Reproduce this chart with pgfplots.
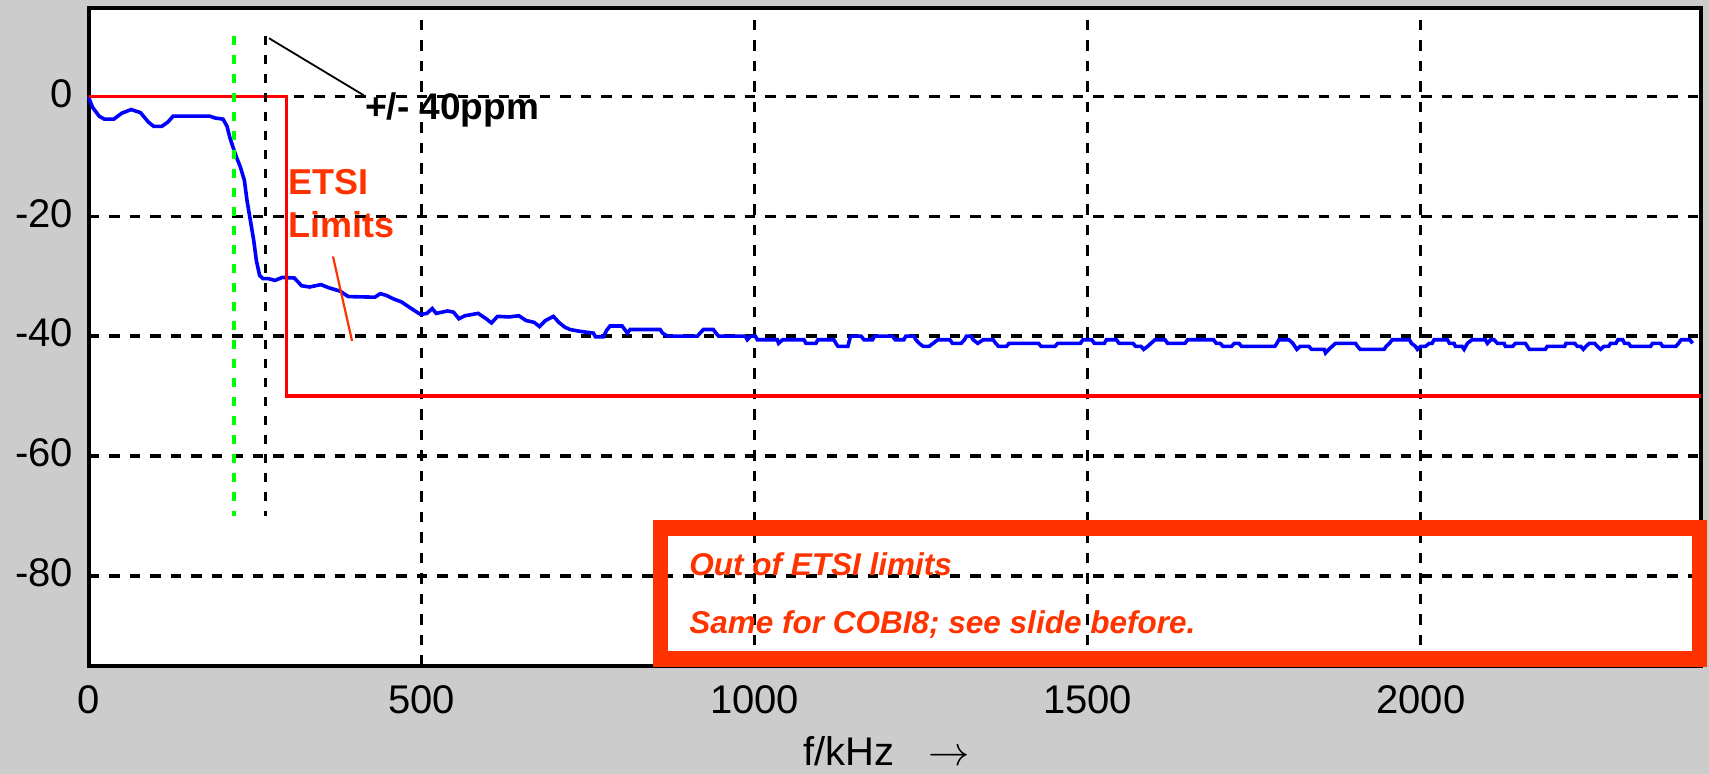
\documentclass[border=0pt]{standalone}
\usepackage{pgfplots}
\pgfplotsset{compat=1.18}
\usepackage{fontspec}
\setmainfont{Liberation Sans}
\definecolor{bggray}{RGB}{204,204,204}
\definecolor{etsi}{RGB}{255,51,0}
\begin{document}
\begin{tikzpicture}
% window background (one unit = 0.5bp)
\begin{scope}[x=0.5bp,y=0.5bp]
\fill[bggray] (0,0) rectangle (1709,774);
\end{scope}
\begin{axis}[
  at={(44.25bp,54.1bp)}, anchor=south west,
  scale only axis, width=806bp, height=328.75bp,
  xmin=0, xmax=2420, ymin=-95, ymax=14.7,
  xtick={0,500,1000,1500,2000}, xticklabels={0,500,1000,1500,2000},
  ytick={-80,-60,-40,-20,0}, yticklabels={-80,-60,-40,-20,0},
  major tick length=0pt,
  grid=major,
  major grid style={black, line width=1.7bp, dash pattern=on 5.25bp off 5bp},
  axis line style={black, line width=2bp},
  axis background/.style={fill=white},
  tick label style={font=\fontsize{20bp}{24bp}\selectfont},
  xticklabel style={anchor=north, inner sep=0pt, yshift=-9.5bp},
  yticklabel style={anchor=east, inner sep=0pt, xshift=-7.5bp, yshift=1.5bp},
  clip=false,
]
% measured response
\addplot[blue, line width=1.8bp] coordinates {
(0,-0.1) (6,-1.8) (16,-3.3) (24,-3.8) (38,-3.8) (50,-2.8) (64,-2.2) (78,-2.7)
(90,-4.3) (98,-5.0) (110,-5.0) (119,-4.3) (127,-3.3) (182,-3.3) (190,-3.6)
(202,-3.8) (208,-5.0) (212,-6.8) (217,-8.5) (222,-10.1) (228,-11.8) (234,-14.0)
(238,-17.4) (243,-20.7) (248,-24.0) (252,-27.4) (257,-29.9) (262,-30.4)
(270,-30.4) (280,-30.7) (291,-30.2) (309,-30.3) (320,-31.6) (332,-31.8)
(349,-31.4) (360,-31.9) (378,-32.5) (390,-33.4) (430,-33.5) (438,-32.9)
(447,-33.2) (458,-33.8) (470,-34.3) (482,-35.2) (493,-36.0) (499,-36.4)
(508,-36.2) (516,-35.4) (522,-36.2) (539,-35.8) (548,-36.0) (556,-37.1)
(565,-36.6) (585,-36.2) (597,-37.1) (605,-37.8) (614,-36.7) (631,-36.8)
(646,-36.6) (657,-37.4) (669,-37.7) (677,-38.4) (686,-37.4) (698,-36.7)
(706,-37.7) (715,-38.5) (723,-38.9) (738,-39.2) (758,-39.5) (761,-40.1)
(773,-40.1) (778,-39.0) (783,-38.3) (801,-38.3) (805,-38.9) (809,-39.5)
(813,-38.9) (858,-38.9) (862,-39.5) (869,-40.0) (914,-40.0) (918,-39.5)
(923,-38.9) (938,-38.9) (942,-39.5) (946,-40.0) (986,-40.0) (989,-40.6)
(994,-40.0) (1001,-40.0) (1004,-40.6) (1034,-40.6) (1036,-41.2) (1042,-40.6)
(1074,-40.6) (1077,-41.2) (1092,-41.2) (1095,-40.6) (1119,-40.6) (1122,-41.2)
(1125,-41.7) (1140,-41.7) (1144,-40.0) (1160,-40.0) (1164,-40.6) (1177,-40.6)
(1180,-40.0) (1207,-40.0) (1211,-40.6) (1224,-40.6) (1227,-40.0) (1239,-40.0)
(1242,-40.6) (1247,-41.2) (1253,-41.7) (1262,-41.7) (1268,-41.2) (1275,-40.6)
(1293,-40.6) (1297,-41.2) (1310,-41.2) (1315,-40.6) (1318,-40.0) (1325,-40.0)
(1328,-40.6) (1335,-41.2) (1343,-40.6) (1358,-40.6) (1362,-41.2) (1366,-41.7)
(1378,-41.7) (1382,-41.2) (1426,-41.2) (1430,-41.7) (1451,-41.7) (1455,-41.2)
(1489,-41.2) (1493,-40.6) (1506,-40.6) (1510,-41.2) (1525,-41.2) (1528,-40.6)
(1543,-40.6) (1547,-41.2) (1568,-41.2) (1572,-41.7) (1580,-41.7) (1584,-42.2)
(1590,-41.7) (1595,-41.2) (1601,-40.6) (1616,-40.6) (1620,-41.2) (1646,-41.2)
(1650,-40.6) (1689,-40.6) (1693,-41.2) (1699,-41.2) (1703,-41.7) (1716,-41.7)
(1720,-41.2) (1727,-41.2) (1731,-41.7) (1781,-41.7) (1784,-41.2) (1787,-40.6)
(1802,-40.6) (1808,-41.2) (1814,-42.2) (1819,-41.7) (1832,-41.7) (1836,-42.2)
(1855,-42.2) (1857,-42.8) (1862,-42.2) (1867,-41.7) (1872,-41.2) (1902,-41.2)
(1905,-41.7) (1909,-42.2) (1945,-42.2) (1948,-41.7) (1953,-41.2) (1957,-40.6)
(1983,-40.6) (1986,-41.2) (1992,-41.7) (1995,-42.2) (2000,-41.7) (2007,-41.7)
(2013,-41.2) (2017,-41.2) (2020,-40.6) (2040,-40.6) (2043,-41.2) (2050,-41.2)
(2052,-41.7) (2062,-41.7) (2065,-42.2) (2070,-41.2) (2077,-40.6) (2097,-40.6)
(2100,-41.2) (2105,-40.6) (2110,-40.6) (2115,-41.2) (2125,-41.2) (2127,-41.7)
(2138,-41.7) (2142,-41.2) (2157,-41.2) (2160,-41.7) (2163,-42.2) (2187,-42.2)
(2190,-41.7) (2216,-41.7) (2218,-41.2) (2231,-41.2) (2235,-41.7) (2240,-41.7)
(2244,-42.2) (2248,-41.7) (2253,-41.2) (2261,-41.2) (2265,-41.7) (2270,-42.2)
(2275,-41.7) (2282,-41.7) (2285,-41.2) (2293,-41.2) (2296,-40.6) (2303,-40.6)
(2306,-41.2) (2312,-41.2) (2315,-41.7) (2345,-41.7) (2348,-41.2) (2360,-41.2)
(2363,-41.7) (2383,-41.7) (2387,-41.2) (2391,-40.6) (2404,-40.6) (2408,-41.2)
};
% ETSI limit mask
\addplot[red, line width=1.6bp] coordinates {(0,0) (297,0) (297,-50) (2420,-50)};
% carrier offset markers
\addplot[green, line width=1.8bp, dash pattern=on 4.5bp off 5bp] coordinates {(218,10) (218,-70)};
\addplot[black, line width=1.6bp, dash pattern=on 4.5bp off 5bp] coordinates {(266,10) (266,-70)};
% annotations
\draw[black, line width=0.9bp] (axis cs:271,9.7) -- (axis cs:413,0.2);
\node[anchor=base west, inner sep=0pt, font=\fontsize{18.5bp}{22bp}\selectfont\bfseries]
  at (axis cs:415,-3.9) {+/- 40ppm};
\node[anchor=base west, inner sep=0pt, text=etsi, font=\fontsize{18bp}{21bp}\selectfont\bfseries]
  at (axis cs:300,-16.4) {ETSI};
\node[anchor=base west, inner sep=0pt, text=etsi, font=\fontsize{18bp}{21bp}\selectfont\bfseries]
  at (axis cs:300,-23.5) {Limits};
\draw[etsi, line width=1.1bp] (axis cs:367,-26.7) -- (axis cs:395.6,-40.8);
\end{axis}
\begin{scope}[x=0.5bp,y=0.5bp]
% remark box
\draw[etsi, line width=7.75bp] (660.4,115) rectangle (1699.4,246);
\node[anchor=base west, inner sep=0pt, text=etsi, font=\fontsize{15.75bp}{19bp}\selectfont\bfseries\itshape]
  at (689,198) {Out of ETSI limits};
\node[anchor=base west, inner sep=0pt, text=etsi, font=\fontsize{15.75bp}{19bp}\selectfont\bfseries\itshape]
  at (689,140) {Same for COBI8; see slide before.};
% x axis label
\node[anchor=base west, inner sep=0pt, font=\fontsize{20bp}{24bp}\selectfont] at (802.7,8) {f/kHz};
\node[anchor=base east, inner sep=0pt, font=\fontsize{22bp}{24bp}\selectfont] at (970,8) {$\rightarrow$};
\pgfresetboundingbox
\path[use as bounding box] (0,0) rectangle (1709,774);
\end{scope}
\end{tikzpicture}
\end{document}
